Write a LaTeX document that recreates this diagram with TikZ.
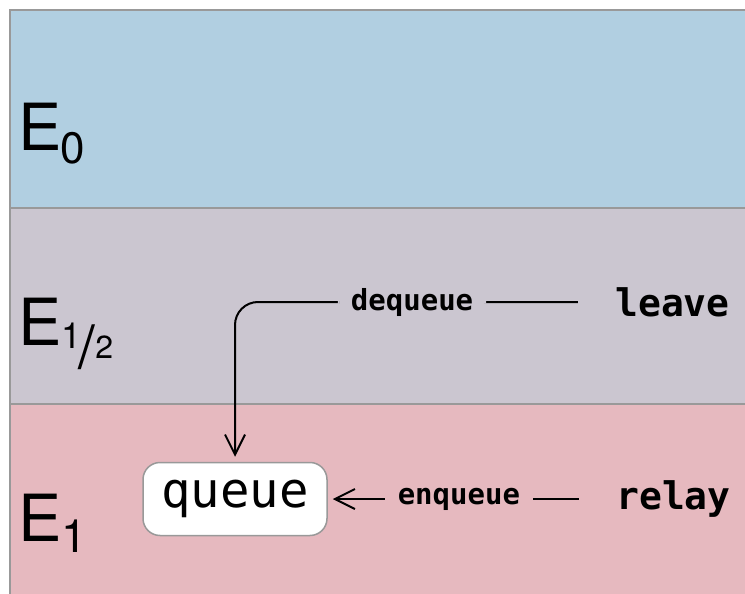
\documentclass[tikz,border=0pt]{standalone}
\usepackage{fontspec}
\setmainfont{TeX Gyre Heros}
\setmonofont{DejaVu Sans Mono}
\usetikzlibrary{arrows.meta}
\definecolor{levelzero}{RGB}{177,207,225}
\definecolor{levelhalf}{RGB}{203,198,208}
\definecolor{levelone}{RGB}{230,185,191}
\definecolor{levelrule}{RGB}{153,153,153}
\def\Level#1#2#3{%
  \filldraw[level band, fill=#3] (10,#1) rectangle (760,#2);
}
\def\Sub#1#2#3{\raisebox{#1}{\fontsize{#2}{#2}\selectfont #3}}

\begin{document}
\begin{tikzpicture}[x=1pt, y=-1pt,
    level band/.style={draw=levelrule, line width=2pt},
    level name/.style={anchor=base west, inner sep=0pt, font=\fontsize{65}{65}\selectfont},
    op name/.style={font=\ttfamily\bfseries\fontsize{38}{38}\selectfont},
    op label/.style={font=\ttfamily\bfseries\fontsize{29}{29}\selectfont, inner xsep=13pt, inner ysep=2pt},
    queue box/.style={draw=levelrule, line width=1.5pt, fill=white, rounded corners=17pt,
      minimum width=184pt, minimum height=73pt, font=\ttfamily\fontsize{49}{49}\selectfont},
    op arrow/.style={line width=2pt, -{Straight Barb[length=20pt,width=20pt]},
      shorten <=34pt, shorten >=5pt}]
\useasboundingbox (0,0) rectangle (745,594);
\begin{scope}
  \clip (0,0) rectangle (745,594);
  \Level{10}{208}{levelzero}
  \Level{208}{404}{levelhalf}
  \Level{404}{610}{levelone}
\end{scope}
% level names
\node[level name] (E0) at (18,150) {E\kern-1pt\Sub{-13pt}{44}{0}};
\node[level name] (Ehalf) at (18,345) {E\Sub{-3pt}{36}{1}\kern-3pt\Sub{-23pt}{60}{/}\Sub{-13pt}{32}{2}};
\node[level name] (E1) at (18,541) {E\Sub{-11pt}{46}{1}};
% operations
\node[queue box] (queue) at (235,499) {queue};
\node[op name] (leave) at (672.5,302) {leave};
\node[op name] (relay) at (673.5,499) {relay};
\draw[op arrow, rounded corners=23pt] (leave.west)
  -- node[op label, fill=levelhalf, pos=0.53] {dequeue} (leave.west -| queue.north)
  -- (queue.north);
\draw[op arrow] (relay.west) -- node[op label, fill=levelone, pos=0.54] {enqueue} (queue.east);
\end{tikzpicture}
\end{document}
